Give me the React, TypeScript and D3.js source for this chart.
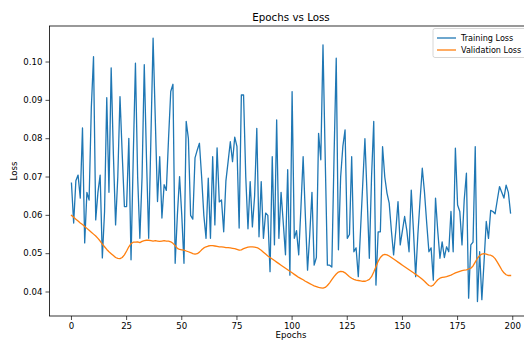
import React from 'react';
import * as d3 from 'd3';

const trainingLoss: number[] = [
  0.0684, 0.0580, 0.0690, 0.0705, 0.0645, 0.0828, 0.0528, 0.0660, 0.0640, 0.0880,
  0.1014, 0.0588, 0.0660, 0.0705, 0.0489, 0.0610, 0.0907, 0.0660, 0.0985, 0.0760,
  0.0575, 0.0700, 0.0910, 0.0760, 0.0623, 0.0623, 0.0801, 0.0484, 0.0750, 0.0997,
  0.0700, 0.0540, 0.0700, 0.0993, 0.0750, 0.0540, 0.0800, 0.1062, 0.0850, 0.0636,
  0.0753, 0.0593, 0.0680, 0.0665, 0.0800, 0.0923, 0.0942, 0.0475, 0.0600, 0.0701,
  0.0600, 0.0475, 0.0845, 0.0800, 0.0600, 0.0590, 0.0750, 0.0770, 0.0788, 0.0700,
  0.0600, 0.0540, 0.0697, 0.0540, 0.0753, 0.0575, 0.0776, 0.0635, 0.0640, 0.0557,
  0.0690, 0.0740, 0.0792, 0.0740, 0.0804, 0.0780, 0.0567, 0.0914, 0.0914, 0.0700,
  0.0565, 0.0688, 0.0570, 0.0650, 0.0827, 0.0544, 0.0688, 0.0540, 0.0606, 0.0600,
  0.0453, 0.0753, 0.0523, 0.0849, 0.0540, 0.0660, 0.0580, 0.0497, 0.0719, 0.0444,
  0.0923, 0.0540, 0.0560, 0.0497, 0.0620, 0.0753, 0.0600, 0.0457, 0.0550, 0.0660,
  0.0470, 0.0490, 0.0814, 0.0745, 0.1045, 0.0750, 0.0470, 0.0470, 0.0465, 0.0750,
  0.1010, 0.0510, 0.0700, 0.0780, 0.0823, 0.0540, 0.0550, 0.0753, 0.0505, 0.0515,
  0.0440, 0.0560, 0.0680, 0.0800, 0.0650, 0.0488, 0.0700, 0.0845, 0.0418, 0.0557,
  0.0557, 0.0779, 0.0700, 0.0658, 0.0632, 0.0560, 0.0497, 0.0560, 0.0636, 0.0523,
  0.0560, 0.0597, 0.0560, 0.0505, 0.0666, 0.0560, 0.0440, 0.0550, 0.0640, 0.0723,
  0.0660, 0.0580, 0.0505, 0.0515, 0.0431, 0.0645, 0.0560, 0.0488, 0.0531, 0.0490,
  0.0518, 0.0505, 0.0610, 0.0505, 0.0775, 0.0627, 0.0610, 0.0523, 0.0640, 0.0710,
  0.0384, 0.0523, 0.0530, 0.0779, 0.0375, 0.0505, 0.0380, 0.0480, 0.0584, 0.0540,
  0.0613, 0.0610, 0.0604, 0.0640, 0.0675, 0.0660, 0.0645, 0.0679, 0.0660, 0.0606,
];

const validationLoss: number[] = [
  0.0600, 0.0595, 0.0590, 0.0585, 0.0580, 0.0576, 0.0571, 0.0566, 0.0561, 0.0556,
  0.0551, 0.0546, 0.0540, 0.0533, 0.0525, 0.0518, 0.0511, 0.0505, 0.0500, 0.0495,
  0.0490, 0.0488, 0.0487, 0.0490, 0.0497, 0.0507, 0.0518, 0.0526, 0.0530, 0.0530,
  0.0531, 0.0529, 0.0532, 0.0534, 0.0535, 0.0535, 0.0534, 0.0533, 0.0534, 0.0533,
  0.0532, 0.0533, 0.0534, 0.0533, 0.0533, 0.0531, 0.0527, 0.0521, 0.0514, 0.0511,
  0.0510, 0.0509, 0.0507, 0.0505, 0.0503, 0.0500, 0.0499, 0.0500, 0.0504, 0.0510,
  0.0515, 0.0518, 0.0520, 0.0521, 0.0521, 0.0520, 0.0519, 0.0518, 0.0518, 0.0517,
  0.0516, 0.0516, 0.0515, 0.0514, 0.0513, 0.0511, 0.0509, 0.0510, 0.0513, 0.0515,
  0.0517, 0.0518, 0.0518, 0.0517, 0.0516, 0.0513, 0.0509, 0.0504, 0.0499, 0.0494,
  0.0490, 0.0486, 0.0482, 0.0478, 0.0474, 0.0470, 0.0466, 0.0462, 0.0458, 0.0454,
  0.0450, 0.0446, 0.0442, 0.0438, 0.0435, 0.0432, 0.0428, 0.0425, 0.0422, 0.0419,
  0.0416, 0.0414, 0.0412, 0.0411, 0.0410, 0.0412, 0.0417, 0.0424, 0.0432, 0.0440,
  0.0447, 0.0452, 0.0454, 0.0453, 0.0450, 0.0445, 0.0440, 0.0436, 0.0433, 0.0431,
  0.0430, 0.0429, 0.0428, 0.0428, 0.0430, 0.0433, 0.0440, 0.0452, 0.0466, 0.0480,
  0.0490, 0.0496, 0.0498, 0.0497, 0.0494, 0.0490, 0.0486, 0.0482, 0.0478, 0.0474,
  0.0470, 0.0466, 0.0462, 0.0458, 0.0454, 0.0450, 0.0446, 0.0442, 0.0438, 0.0433,
  0.0428, 0.0422, 0.0417, 0.0415, 0.0418, 0.0425, 0.0432, 0.0436, 0.0438, 0.0439,
  0.0440, 0.0442, 0.0444, 0.0447, 0.0450, 0.0452, 0.0454, 0.0456, 0.0457, 0.0458,
  0.0460, 0.0462, 0.0468, 0.0478, 0.0488, 0.0495, 0.0499, 0.0500, 0.0499, 0.0497,
  0.0496, 0.0493, 0.0487, 0.0478, 0.0468, 0.0458, 0.0450, 0.0445, 0.0443, 0.0443,
];

const xTicks: number[] = [0, 25, 50, 75, 100, 125, 150, 175, 200];
const yTicks: number[] = [0.04, 0.05, 0.06, 0.07, 0.08, 0.09, 0.10];
const seriesNames: string[] = ['Training Loss', 'Validation Loss'];
const seriesColors: string[] = ['#1f77b4', '#ff7f0e'];

const W = 524;
const H = 340;
const FONT = 'DejaVu Sans, sans-serif';

export default function App() {
  const left = 49.5;
  const right = 532.5;
  const top = 26;
  const bottom = 316;

  const x = d3.scaleLinear().domain([-9.95, 208.95]).range([left, right]);
  const y = d3.scaleLinear().domain([0.03374, 0.1094]).range([bottom, top]);

  const line = d3
    .line<number>()
    .x((_, i) => x(i))
    .y((d) => y(d));

  const series = [trainingLoss, validationLoss];
  const fs = 8.6;
  const lfs = 8.1;

  return (
    <svg
      width={W}
      height={H}
      style={{ position: 'absolute', left: 0, top: 0, background: '#fff' }}
      fontFamily={FONT}
    >
      <rect x={0} y={0} width={W} height={H} fill="#fff" />
      <defs>
        <clipPath id="plotclip">
          <rect x={left} y={top} width={right - left} height={bottom - top} />
        </clipPath>
      </defs>
      <g clipPath="url(#plotclip)">
        {series.map((s, k) => (
          <path
            key={k}
            d={line(s) || ''}
            fill="none"
            stroke={seriesColors[k]}
            strokeWidth={1.3}
            strokeLinejoin="round"
            strokeLinecap="square"
          />
        ))}
      </g>
      {/* spines */}
      <rect
        x={left}
        y={top}
        width={right - left}
        height={bottom - top}
        fill="none"
        stroke="#000"
        strokeWidth={0.8}
      />
      {/* x ticks */}
      {xTicks.map((t) => (
        <g key={'x' + t}>
          <line x1={x(t)} x2={x(t)} y1={bottom} y2={bottom + 4} stroke="#000" strokeWidth={0.7} />
          <text x={x(t)} y={bottom + 13.3} textAnchor="middle" fontSize={fs} fill="#000">
            {t}
          </text>
        </g>
      ))}
      {/* y ticks */}
      {yTicks.map((t) => (
        <g key={'y' + t}>
          <line x1={left - 4} x2={left} y1={y(t)} y2={y(t)} stroke="#000" strokeWidth={0.7} />
          <text
            x={left - 7}
            y={y(t)}
            dy="0.32em"
            textAnchor="end"
            fontSize={fs}
            fill="#000"
          >
            {t.toFixed(2)}
          </text>
        </g>
      ))}
      {/* axis labels */}
      <text x={(left + right) / 2} y={338} textAnchor="middle" fontSize={fs} fill="#000">
        Epochs
      </text>
      <text
        transform={`translate(17,${(top + bottom) / 2}) rotate(-90)`}
        textAnchor="middle"
        fontSize={fs}
        fill="#000"
      >
        Loss
      </text>
      {/* title */}
      <text x={(left + right) / 2} y={20.5} textAnchor="middle" fontSize={10.3} fill="#000">
        Epochs vs Loss
      </text>
      {/* legend */}
      <g>
        <rect
          x={433}
          y={28.5}
          width={96}
          height={29}
          rx={2}
          ry={2}
          fill="#fff"
          fillOpacity={0.8}
          stroke="#cccccc"
          strokeWidth={0.8}
        />
        {seriesNames.map((name, k) => (
          <g key={name}>
            <line
              x1={437}
              x2={456}
              y1={38 + k * 12}
              y2={38 + k * 12}
              stroke={seriesColors[k]}
              strokeWidth={1.3}
            />
            <text x={461} y={38 + k * 12} dy="0.35em" fontSize={lfs} fill="#000">
              {name}
            </text>
          </g>
        ))}
      </g>
    </svg>
  );
}
